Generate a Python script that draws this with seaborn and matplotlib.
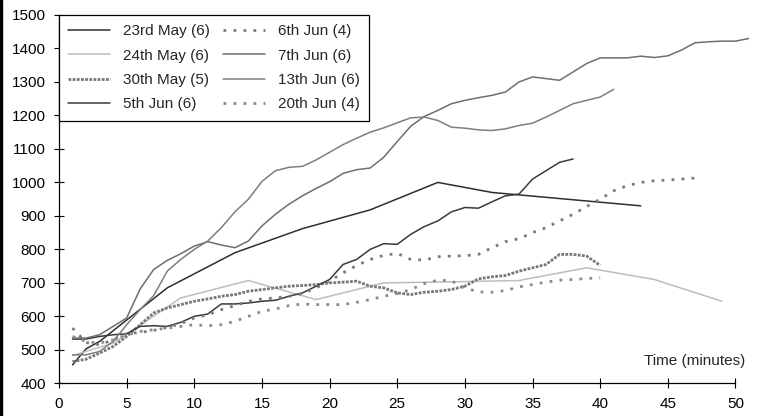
import matplotlib
matplotlib.use("Agg")
import matplotlib.pyplot as plt
import seaborn as sns

# minutes and counts
may23_t = [1, 2, 3, 8, 13, 18, 23, 28, 32, 43]
may23_v = [455, 503, 525, 685, 790, 862, 918, 1000, 970, 930]

may24_t = [1, 4, 9, 14, 19, 24, 29, 34, 39, 44, 49]
may24_v = [483, 520, 655, 707, 650, 700, 703, 707, 745, 710, 645]

may30_t = list(range(1, 41))
may30_v = [465, 472, 490, 510, 540, 575, 610, 625, 635, 645,
           652, 660, 665, 675, 680, 685, 690, 692, 695, 700,
           702, 705, 690, 685, 670, 665, 672, 675, 680, 690,
           712, 718, 722, 735, 745, 755, 785, 785, 780, 752]

jun5_t = list(range(1, 39))
jun5_v = [532, 532, 540, 545, 548, 570, 572, 570, 582, 600,
          607, 637, 637, 640, 645, 648, 660, 670, 690, 710,
          755, 770, 800, 817, 815, 845, 868, 885, 912, 925,
          923, 942, 960, 965, 1010, 1035, 1060, 1070]

jun6_t = list(range(1, 48))
jun6_v = [565, 522, 515, 530, 548, 552, 558, 567, 578, 595,
          605, 620, 632, 645, 652, 655, 660, 668, 685, 705,
          730, 752, 770, 782, 788, 770, 768, 778, 780, 781,
          785, 805, 823, 832, 850, 865, 885, 905, 928, 950,
          975, 990, 1000, 1005, 1007, 1010, 1013]

jun7_t = list(range(1, 52))
jun7_v = [535, 535, 545, 570, 595, 682, 740, 767, 787, 810,
          823, 813, 805, 825, 870, 905, 935, 960, 982, 1002,
          1027, 1038, 1043, 1075, 1122, 1168, 1197, 1215, 1235, 1245,
          1253, 1260, 1270, 1300, 1315, 1310, 1305, 1330, 1355, 1372,
          1372, 1372, 1377, 1373, 1378, 1395, 1417, 1420, 1422, 1422,
          1430]

jun13_t = list(range(1, 42))
jun13_v = [485, 485, 495, 525, 575, 620, 662, 735, 770, 800,
           825, 865, 912, 950, 1003, 1035, 1045, 1048, 1067, 1090,
           1113, 1132, 1150, 1163, 1178, 1193, 1195, 1185, 1165, 1162,
           1157, 1155, 1160, 1170, 1177, 1195, 1215, 1235, 1245, 1255,
           1278]

jun20_t = list(range(1, 41))
jun20_v = [540, 525, 520, 530, 545, 555, 560, 565, 570, 575,
           572, 575, 585, 600, 615, 622, 632, 637, 635, 635,
           635, 642, 650, 660, 668, 680, 698, 708, 706, 685,
           673, 672, 677, 688, 695, 702, 708, 710, 713, 715]

labels = ["23rd May (6)", "24th May (6)", "30th May (5)", "5th Jun (6)",
          "6th Jun (4)", "7th Jun (6)", "13th Jun (6)", "20th Jun (4)"]

sns.set_style("ticks")
plt.rcParams["font.family"] = ["Liberation Sans", "DejaVu Sans"]
plt.rcParams["font.size"] = 11

fig = plt.figure(figsize=(7.58, 4.16), dpi=100)
ax = fig.add_axes([59 / 758, 1 - 383.3 / 416, 690 / 758, 368.3 / 416])

dense = (0, (1, 0.5))
sparse = (0, (1, 2.6))
series = [
    (may23_t, may23_v, "#2e2e2e", 1.1, "-"),
    (may24_t, may24_v, "#bdbdbd", 1.1, "-"),
    (may30_t, may30_v, "#777777", 2.0, dense),
    (jun5_t, jun5_v, "#3a3a3a", 1.1, "-"),
    (jun6_t, jun6_v, "#7a7a7a", 2.0, sparse),
    (jun7_t, jun7_v, "#6e6e6e", 1.1, "-"),
    (jun13_t, jun13_v, "#7e7e7e", 1.1, "-"),
    (jun20_t, jun20_v, "#8a8a8a", 2.0, sparse),
]
for (t, v, col, lw, ls), lab in zip(series, labels):
    sns.lineplot(x=t, y=v, ax=ax, color=col, linewidth=lw,
                 linestyle=ls, label=lab)

ax.set_xlim(0, 51)
ax.set_ylim(400, 1500)
ax.set_xticks(range(0, 51, 5))
ax.set_yticks(range(400, 1501, 100))
ax.spines["top"].set_visible(False)
ax.spines["right"].set_visible(False)
ax.spines["bottom"].set_bounds(0, 50)
for s in ["left", "bottom"]:
    ax.spines[s].set_color("black")
    ax.spines[s].set_linewidth(0.9)
ax.tick_params(axis="both", direction="inout", length=7.2, width=0.8,
               color="black", labelsize=11, labelcolor="black",
               bottom=True, left=True)
ax.tick_params(axis="y", pad=6)
ax.tick_params(axis="x", pad=6)
ax.set_xlabel("")
ax.set_ylabel("")
ax.text(50.7, 455, "Time (minutes)", ha="right", va="baseline", fontsize=11)

leg = ax.legend(ncol=2, loc="upper left", bbox_to_anchor=(0, 1),
                borderaxespad=0, frameon=True, fancybox=False,
                handlelength=2.75, handletextpad=0.85, columnspacing=0.8,
                labelspacing=0.67, borderpad=0.62, fontsize=11)
leg.get_frame().set_edgecolor("black")
leg.get_frame().set_linewidth(0.9)
leg.get_frame().set_alpha(1)

# left border of the original picture frame
fig.patches.append(plt.Rectangle((0, 0), 2 / 758, 1, color="black",
                                 transform=fig.transFigure, figure=fig))

fig.savefig("out.png", dpi=100)
